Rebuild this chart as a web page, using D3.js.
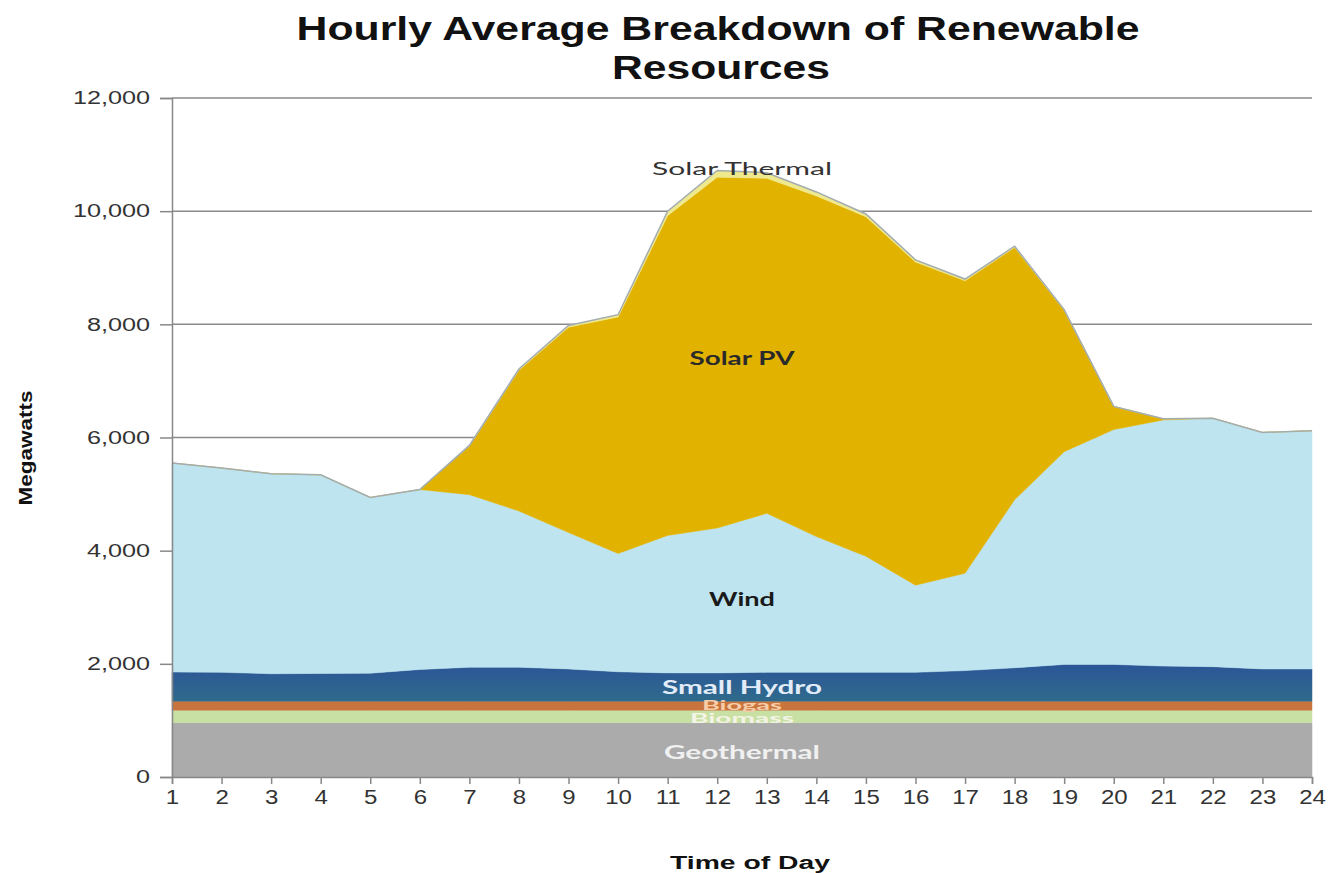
<!DOCTYPE html>
<html>
<head>
<meta charset="utf-8">
<script src="https://cdn.jsdelivr.net/npm/d3@7"></script>
<style>
  body { margin: 0; background: #fff; }
  svg { display: block; }
</style>
</head>
<body>
<div id="chart"></div>
<script>
const FRAME_WIDTH = 1329;
const FRAME_HEIGHT = 873;
const MARGINS = {left: 172, right: 17, top: 98, bottom: 96};

// data (MW)
const hours = d3.range(1, 25);
const geothermal = [960,960,960,960,960,960,960,960,960,960,960,960,960,960,960,960,960,960,960,960,960,960,960,960];
const biomass = [220,220,220,220,220,220,220,220,220,220,220,220,220,220,220,220,220,220,220,220,220,220,220,220];
const biogas = [160,160,160,160,160,160,160,160,160,160,160,160,160,160,160,160,160,160,160,160,160,160,160,160];
const smallHydro = [515,510,485,490,495,560,600,600,570,520,500,500,510,510,510,510,540,590,650,650,620,610,570,570];
const wind = [3695,3610,3535,3510,3105,3180,3050,2760,2410,2090,2430,2560,2810,2400,2050,1540,1720,2970,3760,4150,4350,4390,4180,4210];
const solarPV = [0,0,0,0,0,0,860,2490,3630,4180,5650,6200,5920,6020,6000,5710,5170,4460,2500,410,20,0,0,0];
const solarThermal = [0,0,0,0,0,0,10,20,30,40,80,120,100,70,50,40,30,20,10,0,0,0,0,0];

const seriesNames = ["Geothermal","Biomass","Biogas","Small Hydro","Wind","Solar PV","Solar Thermal"];
const seriesValues = [geothermal, biomass, biogas, smallHydro, wind, solarPV, solarThermal];
const yTicks = [0, 2000, 4000, 6000, 8000, 10000, 12000];

const colors = {
  "Geothermal": "#ababab",
  "Biomass": "#c9e0a4",
  "Biogas": "#c9743c",
  "Small Hydro": "url(#hydroGrad)",
  "Wind": "#bde4ef",
  "Solar PV": "#e2b200",
  "Solar Thermal": "#eee98c"
};

const table = hours.map((h, i) => {
  const row = {hour: h};
  seriesNames.forEach((k, j) => { row[k] = seriesValues[j][i]; });
  return row;
});

const svg = d3.select("#chart").append("svg")
  .attr("width", FRAME_WIDTH)
  .attr("height", FRAME_HEIGHT);

const defs = svg.append("defs");
const grad = defs.append("linearGradient").attr("id", "hydroGrad")
  .attr("x1", 0).attr("x2", 0).attr("y1", 0).attr("y2", 1);
grad.append("stop").attr("offset", "0%").attr("stop-color", "#2c5597");
grad.append("stop").attr("offset", "100%").attr("stop-color", "#2f6b8c");

const X_SCALE = d3.scaleLinear().domain([1, 24]).range([MARGINS.left, FRAME_WIDTH - MARGINS.right]);
const Y_SCALE = d3.scaleLinear().domain([0, 12000]).range([FRAME_HEIGHT - MARGINS.bottom, MARGINS.top]);

// stretch text horizontally, the source image is wider than it is tall
function stretch(sel, k) {
  sel.each(function() {
    const w = this.getComputedTextLength();
    d3.select(this).attr("textLength", w * k).attr("lengthAdjust", "spacingAndGlyphs");
  });
}

// gridlines
svg.append("g")
  .selectAll("line")
  .data(yTicks.filter(d => d > 0))
  .enter()
  .append("line")
  .attr("x1", MARGINS.left)
  .attr("x2", FRAME_WIDTH - MARGINS.right)
  .attr("y1", d => Y_SCALE(d))
  .attr("y2", d => Y_SCALE(d))
  .attr("stroke", "#8a8a8a")
  .attr("stroke-width", 1.5);

// stacked areas
const stacked = d3.stack().keys(seriesNames)(table);
const area = d3.area()
  .x(d => X_SCALE(d.data.hour))
  .y0(d => Y_SCALE(d[0]))
  .y1(d => Y_SCALE(d[1]));

svg.append("g")
  .selectAll("path")
  .data(stacked)
  .enter()
  .append("path")
  .attr("d", area)
  .attr("fill", d => colors[d.key])
  .attr("stroke", d => colors[d.key])
  .attr("stroke-width", 0.5);

// grey edge along the top of the stack
const topLayer = stacked[stacked.length - 1];
svg.append("path")
  .datum(topLayer)
  .attr("d", d3.line().x(d => X_SCALE(d.data.hour)).y(d => Y_SCALE(d[1])))
  .attr("fill", "none")
  .attr("stroke", "#a3acb0")
  .attr("stroke-width", 1.5);

// axes
const yAxis = svg.append("g")
  .attr("transform", "translate(" + MARGINS.left + ",0)")
  .call(d3.axisLeft(Y_SCALE).tickValues(yTicks).tickSize(12).tickPadding(10).tickFormat(d3.format(",")));
yAxis.select(".domain").attr("stroke", "#888").attr("stroke-width", 1.5);
yAxis.selectAll(".tick line").attr("stroke", "#888").attr("stroke-width", 1.5);
yAxis.selectAll("text")
  .attr("font-family", "Liberation Sans, Arial, sans-serif")
  .attr("font-size", 18)
  .attr("fill", "#333");
stretch(yAxis.selectAll("text"), 1.4);

const xAxis = svg.append("g")
  .attr("transform", "translate(0," + (FRAME_HEIGHT - MARGINS.bottom) + ")")
  .call(d3.axisBottom(X_SCALE).tickValues(hours).tickSize(7).tickPadding(6).tickFormat(d3.format("d")));
xAxis.select(".domain").attr("stroke", "#888").attr("stroke-width", 1.5);
xAxis.selectAll(".tick line").attr("stroke", "#888").attr("stroke-width", 1.5);
xAxis.selectAll("text")
  .attr("font-family", "Liberation Sans, Arial, sans-serif")
  .attr("font-size", 20)
  .attr("fill", "#333");
stretch(xAxis.selectAll("text"), 1.2);

// title
const title = svg.append("text")
  .attr("text-anchor", "middle")
  .attr("font-family", "Liberation Sans, Arial, sans-serif")
  .attr("font-weight", "bold")
  .attr("font-size", 34)
  .attr("fill", "#111");
title.append("tspan").attr("x", 718).attr("y", 40).attr("textLength", 843).attr("lengthAdjust", "spacingAndGlyphs")
  .text("Hourly Average Breakdown of Renewable");
title.append("tspan").attr("x", 721).attr("y", 79).attr("textLength", 218).attr("lengthAdjust", "spacingAndGlyphs")
  .text("Resources");

// axis titles
svg.append("text")
  .attr("transform", "translate(32,448) rotate(-90)")
  .attr("text-anchor", "middle")
  .attr("font-family", "Liberation Sans, Arial, sans-serif")
  .attr("font-weight", "bold")
  .attr("font-size", 19)
  .attr("fill", "#111")
  .attr("textLength", 115)
  .attr("lengthAdjust", "spacingAndGlyphs")
  .text("Megawatts");

svg.append("text")
  .attr("x", 750)
  .attr("y", 869)
  .attr("text-anchor", "middle")
  .attr("font-family", "Liberation Sans, Arial, sans-serif")
  .attr("font-weight", "bold")
  .attr("font-size", 18)
  .attr("fill", "#111")
  .attr("textLength", 160)
  .attr("lengthAdjust", "spacingAndGlyphs")
  .text("Time of Day");

// series labels (Biogas and Biomass sit on thin bands, kept small)
const labelNames = ["Solar Thermal","Solar PV","Wind","Small Hydro","Biogas","Biomass","Geothermal"];
const labelY = [10750, 7400, 3130, 1570, 1260, 1030, 430];
const labelW = [180, 105, 66, 160, 80, 104, 156];
const labelSize = [18, 18, 18, 18, 13, 13, 18];
const labelFill = ["#333","#2a2a2a","#1a1a1a","#e2ecf8","#f6cda8","#f4f4e6","#f0f0f0"];
const labelWeight = ["normal","bold","bold","bold","bold","bold","bold"];

svg.append("g")
  .selectAll("text")
  .data(labelNames)
  .enter()
  .append("text")
  .attr("x", 742)
  .attr("y", (d, i) => Y_SCALE(labelY[i]))
  .attr("dy", "0.35em")
  .attr("text-anchor", "middle")
  .attr("font-family", "Lato, Open Sans, sans-serif")
  .attr("font-size", (d, i) => labelSize[i])
  .attr("font-weight", (d, i) => labelWeight[i])
  .attr("fill", (d, i) => labelFill[i])
  .attr("textLength", (d, i) => labelW[i])
  .attr("lengthAdjust", "spacingAndGlyphs")
  .text(d => d);
</script>
</body>
</html>
